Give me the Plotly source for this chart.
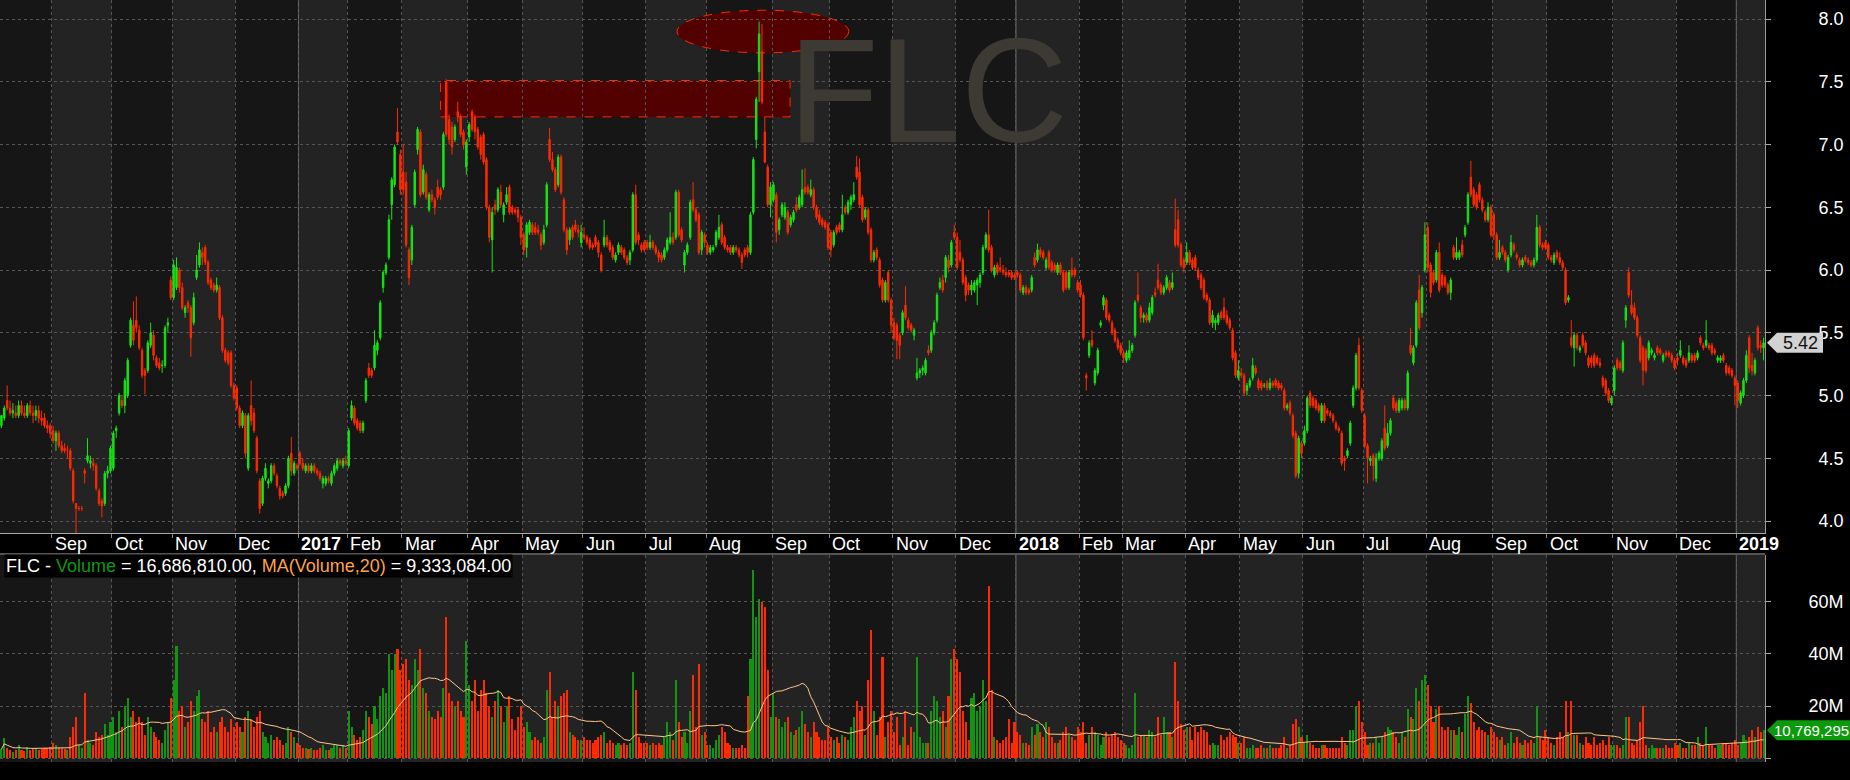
import plotly.graph_objects as go
import pandas as pd

# ---------------- DATA (FLC daily, Aug 2016 - Jan 2019) ----------------
opens = [
    # 2016-08
    4.76,4.82,4.96,4.90,4.86,4.86,4.84,4.92,4.86,4.84,4.92,4.86,4.84,4.88,4.82,4.82,4.76,4.76,
    # 2016-09
    4.72,4.64,4.70,4.60,4.58,4.56,4.56,4.40,4.14,4.10,4.10,4.40,4.48,4.46,4.46,4.44,4.24,4.16,4.14,4.38,4.40,
    # 2016-10
    4.42,4.72,4.86,4.96,4.92,5.00,5.40,5.56,5.60,5.52,5.36,5.20,5.20,5.40,5.48,5.30,5.26,5.24,5.24,5.56,5.92,
    # 2016-11
    5.78,5.86,6.00,5.86,5.66,5.74,5.70,5.58,5.94,6.04,6.14,6.18,6.06,5.92,5.88,5.84,5.86,5.62,5.36,5.34,5.34,5.08,
    # 2016-12
    5.06,4.90,4.76,4.84,4.42,4.92,4.86,4.66,4.32,4.14,4.34,4.30,4.32,4.44,4.36,4.26,4.22,4.22,4.28,4.54,4.38,4.44,
    # 2017-01
    4.54,4.46,4.40,4.44,4.40,4.44,4.40,4.38,4.30,4.30,4.34,4.30,4.38,4.42,4.48,4.44,4.48,
    # 2017-02
    4.44,4.82,4.90,4.80,4.78,4.72,4.96,5.22,5.20,5.22,5.36,5.46,5.86,5.98,6.10,6.52,6.68,7.10,6.92,
    # 2017-03
    6.78,6.70,6.16,6.08,6.52,6.96,7.10,6.62,6.76,6.48,6.60,6.56,6.66,6.64,6.66,7.50,7.20,7.14,7.04,7.26,7.22,7.10,6.82,
    # 2017-04
    7.06,7.26,7.22,7.12,7.06,7.08,6.88,6.50,6.24,6.52,6.48,6.62,6.44,6.54,6.66,6.50,6.48,6.48,6.42,
    # 2017-05
    6.28,6.18,6.30,6.36,6.34,6.32,6.28,6.22,6.36,7.04,6.88,6.80,6.68,6.90,6.56,6.32,6.24,6.34,6.36,6.32,6.22,
    # 2017-06
    6.28,6.26,6.24,6.20,6.26,6.22,6.12,6.20,6.26,6.22,6.18,6.08,6.14,6.18,6.16,6.10,6.08,6.16,6.60,6.28,6.20,6.22,
    # 2017-07
    6.22,6.18,6.22,6.18,6.14,6.12,6.10,6.16,6.22,6.26,6.26,6.62,6.32,6.04,6.14,6.26,6.56,6.48,6.44,6.16,6.28,
    # 2017-08
    6.20,6.14,6.16,6.20,6.26,6.36,6.26,6.18,6.18,6.14,6.18,6.16,6.12,6.16,6.18,6.14,6.46,7.04,7.58,7.74,7.10,6.82,6.52,
    # 2017-09
    6.56,6.60,6.32,6.44,6.42,6.46,6.36,6.40,6.52,6.50,6.52,6.66,6.66,6.60,6.64,6.50,6.44,6.40,6.38,6.36,
    # 2017-10
    6.30,6.20,6.34,6.36,6.32,6.50,6.46,6.52,6.56,6.82,6.78,6.58,6.42,6.48,6.32,6.08,6.16,6.08,5.92,5.76,5.98,5.76,
    # 2017-11
    5.58,5.56,5.48,5.50,5.72,5.60,5.56,5.48,5.14,5.18,5.20,5.18,5.36,5.36,5.50,5.60,5.86,5.92,5.94,6.08,6.04,6.30,
    # 2017-12
    6.26,6.14,6.08,5.94,5.88,5.84,5.84,5.88,5.90,5.98,6.18,6.28,6.18,5.96,6.04,6.02,6.00,5.98,5.98,5.98,5.96,
    # 2018-01
    5.98,5.96,5.82,5.86,5.84,5.84,6.10,6.08,6.16,6.14,6.02,6.14,6.06,6.04,5.98,6.04,5.98,5.98,5.86,6.00,6.00,5.90,
    # 2018-02
    5.88,5.80,5.16,5.32,5.44,5.10,5.18,5.56,5.72,5.76,5.64,5.58,5.52,5.44,5.40,
    # 2018-03
    5.34,5.28,5.30,5.36,5.48,5.80,5.70,5.62,5.64,5.60,5.66,5.82,5.92,5.88,5.82,5.86,5.90,5.86,6.32,6.40,6.20,6.08,
    # 2018-04
    6.06,6.14,6.08,6.10,6.00,5.96,5.92,5.80,5.76,5.58,5.58,5.58,5.66,5.70,5.64,5.60,5.52,5.34,5.14,
    # 2018-05
    5.18,5.16,5.04,5.08,5.14,5.22,5.12,5.10,5.08,5.10,5.06,5.10,5.12,5.10,5.08,5.04,4.90,4.94,4.84,4.70,4.38,4.62,
    # 2018-06
    4.62,4.72,5.02,4.98,4.96,4.92,4.80,4.92,4.88,4.86,4.84,4.78,4.74,4.70,4.50,4.52,4.62,4.92,5.06,5.40,5.04,
    # 2018-07
    4.84,4.60,4.48,4.52,4.34,4.50,4.50,4.74,4.60,4.70,4.98,4.94,4.88,4.90,4.96,4.90,5.40,5.26,5.40,5.84,5.66,6.00,
    # 2018-08
    6.34,6.04,5.98,5.92,6.14,5.96,5.94,5.88,5.82,6.18,6.10,6.10,6.20,6.28,6.38,6.74,6.64,6.60,6.68,6.56,6.46,6.40,6.50,
    # 2018-09
    6.44,6.28,6.10,6.18,6.14,6.00,6.12,6.20,6.12,6.08,6.04,6.10,6.08,6.06,6.04,6.08,6.34,6.20,6.22,
    # 2018-10
    6.20,6.10,6.06,6.14,6.10,6.06,6.00,5.76,5.46,5.38,5.48,5.36,5.48,5.42,5.30,5.30,5.32,5.30,5.26,5.14,5.12,5.04,4.94,
    # 2018-11
    5.04,5.28,5.26,5.20,5.60,5.98,5.72,5.70,5.62,5.46,5.38,5.36,5.30,5.34,5.30,5.38,5.36,5.28,5.34,5.34,5.32,5.28,
    # 2018-12
    5.30,5.32,5.30,5.28,5.28,5.32,5.32,5.30,5.46,5.40,5.40,5.40,5.40,5.36,5.28,5.28,5.32,5.24,5.22,5.20,5.14,
    # 2019-01
    5.10,4.94,5.00,5.12,5.46,5.24,5.18,5.54,5.40,5.38,
]

highs = [
    4.84,4.92,5.08,4.96,4.94,4.92,4.96,4.96,4.92,4.94,4.96,4.92,4.92,4.92,4.88,4.86,4.80,4.78,
    4.76,4.72,4.72,4.64,4.62,4.60,4.58,4.42,4.14,4.12,4.12,4.42,4.66,4.52,4.50,4.46,4.26,4.18,4.40,4.44,4.60,
    4.72,4.76,5.02,5.00,5.14,5.30,5.62,5.75,5.79,5.56,5.38,5.22,5.44,5.58,5.52,5.32,5.30,5.28,5.56,5.62,5.95,
    6.08,6.10,6.02,5.90,5.72,5.76,5.72,5.82,6.12,6.22,6.18,6.20,6.08,5.94,5.90,5.94,5.88,5.64,5.38,5.36,5.36,5.10,
    5.08,4.92,4.88,4.86,4.86,5.12,4.90,4.68,4.34,4.36,4.46,4.34,4.46,4.46,4.38,4.28,4.24,4.30,4.52,4.67,4.48,4.46,
    4.56,4.50,4.46,4.46,4.46,4.46,4.42,4.40,4.36,4.36,4.36,4.40,4.46,4.50,4.50,4.50,4.52,
    4.74,4.96,4.92,4.82,4.80,4.80,5.14,5.26,5.22,5.52,5.44,5.76,6.00,6.06,6.44,6.74,7.00,7.29,6.96,
    7.00,6.78,6.18,6.36,6.80,7.14,7.12,6.84,6.78,6.62,6.64,6.58,6.72,6.66,7.10,7.52,7.24,7.18,7.16,7.34,7.24,7.12,7.04,
    7.18,7.28,7.24,7.14,7.08,7.10,6.90,6.52,6.50,6.56,6.66,6.68,6.54,6.66,6.68,6.52,6.50,6.50,6.44,
    6.30,6.38,6.40,6.38,6.38,6.36,6.30,6.36,6.70,7.13,6.94,6.82,6.92,6.92,6.58,6.34,6.34,6.36,6.40,6.36,6.36,
    6.34,6.28,6.26,6.22,6.28,6.24,6.14,6.40,6.28,6.24,6.20,6.14,6.22,6.20,6.18,6.12,6.16,6.62,6.68,6.30,6.22,6.24,
    6.24,6.28,6.24,6.20,6.16,6.14,6.18,6.26,6.46,6.30,6.64,6.64,6.34,6.16,6.22,6.56,6.70,6.50,6.46,6.32,6.30,
    6.22,6.20,6.20,6.32,6.44,6.38,6.28,6.20,6.20,6.20,6.20,6.18,6.14,6.18,6.20,6.46,6.90,7.38,7.98,7.96,7.22,6.84,6.70,
    6.70,6.62,6.42,6.54,6.54,6.48,6.44,6.48,6.58,6.60,6.80,6.81,6.68,6.72,6.66,6.52,6.48,6.42,6.40,6.38,
    6.32,6.32,6.36,6.38,6.60,6.52,6.56,6.60,6.70,6.91,6.89,6.60,6.50,6.50,6.34,6.16,6.18,6.10,5.94,5.92,6.00,5.78,
    5.62,5.58,5.50,5.68,5.87,5.62,5.58,5.54,5.30,5.22,5.24,5.30,5.40,5.52,5.60,5.82,5.94,5.96,6.12,6.12,6.24,6.36,
    6.30,6.24,6.10,5.96,5.90,5.92,5.92,5.94,5.98,6.20,6.30,6.48,6.20,6.04,6.06,6.10,6.04,6.02,6.00,6.00,5.98,
    6.00,5.98,5.88,5.88,5.86,5.96,6.14,6.21,6.18,6.16,6.10,6.16,6.08,6.06,6.06,6.06,6.00,6.00,6.00,6.10,6.02,5.92,
    5.92,5.82,5.18,5.44,5.52,5.22,5.38,5.60,5.80,5.78,5.66,5.60,5.54,5.46,5.42,
    5.36,5.36,5.44,5.42,5.76,5.98,5.72,5.66,5.66,5.74,5.80,5.86,6.05,5.90,5.88,5.96,5.92,5.98,6.57,6.48,6.22,6.10,
    6.22,6.16,6.10,6.12,6.02,5.98,5.94,5.82,5.78,5.68,5.62,5.66,5.68,5.78,5.68,5.62,5.54,5.36,5.28,
    5.22,5.18,5.10,5.14,5.30,5.24,5.14,5.12,5.10,5.12,5.14,5.12,5.14,5.12,5.10,5.06,4.94,4.96,4.86,4.72,4.68,4.64,
    4.76,5.00,5.04,5.00,4.98,4.94,4.94,4.94,4.90,4.88,4.86,4.80,4.76,4.72,4.52,4.58,4.80,5.08,5.34,5.46,5.06,
    4.86,4.62,4.52,4.54,4.54,4.56,4.66,4.92,4.78,4.82,5.00,4.96,4.98,4.98,4.98,5.20,5.54,5.40,5.76,5.96,5.88,6.38,
    6.38,6.06,6.00,6.16,6.22,5.98,5.96,5.90,5.94,6.20,6.26,6.16,6.24,6.36,6.62,6.87,6.66,6.62,6.70,6.58,6.48,6.54,6.52,
    6.46,6.30,6.24,6.20,6.16,6.12,6.28,6.22,6.14,6.10,6.10,6.12,6.10,6.08,6.10,6.44,6.36,6.22,6.24,
    6.22,6.12,6.14,6.16,6.14,6.08,6.02,5.80,5.60,5.50,5.50,5.40,5.50,5.44,5.32,5.32,5.34,5.32,5.30,5.16,5.14,5.06,5.00,
    5.24,5.30,5.28,5.44,5.72,6.02,5.84,5.74,5.64,5.48,5.40,5.38,5.44,5.38,5.34,5.40,5.38,5.34,5.36,5.36,5.34,5.30,
    5.34,5.44,5.32,5.30,5.40,5.34,5.34,5.36,5.48,5.42,5.60,5.42,5.42,5.38,5.32,5.32,5.34,5.26,5.24,5.22,5.16,
    5.12,5.04,5.14,5.36,5.48,5.34,5.30,5.56,5.44,5.46,
]

lows = [
    4.74,4.80,4.88,4.84,4.82,4.82,4.82,4.84,4.82,4.82,4.84,4.78,4.80,4.78,4.76,4.74,4.70,4.66,
    4.62,4.56,4.58,4.54,4.54,4.50,4.40,4.14,3.90,4.08,4.08,4.30,4.46,4.42,4.40,4.24,4.12,4.03,4.12,4.34,4.38,
    4.40,4.66,4.84,4.90,4.86,4.98,5.38,5.40,5.50,5.36,5.14,5.01,5.18,5.38,5.28,5.22,5.20,5.18,5.22,5.50,5.76,
    5.76,5.84,5.82,5.68,5.62,5.66,5.31,5.56,5.92,6.02,6.04,6.04,5.88,5.84,5.82,5.82,5.60,5.34,5.26,5.24,5.06,4.96,
    4.88,4.74,4.74,4.50,4.40,4.76,4.70,4.38,4.06,4.12,4.32,4.26,4.30,4.36,4.26,4.17,4.18,4.20,4.26,4.36,4.36,4.40,
    4.44,4.40,4.38,4.38,4.38,4.38,4.36,4.32,4.26,4.28,4.30,4.28,4.36,4.40,4.44,4.42,4.44,
    4.42,4.80,4.76,4.72,4.70,4.70,4.94,5.14,5.14,5.20,5.32,5.44,5.82,5.96,6.08,6.40,6.66,7.00,6.60,
    6.60,6.18,5.88,6.04,6.50,6.92,6.58,6.60,6.56,6.46,6.54,6.44,6.56,6.56,6.64,7.06,7.00,6.92,7.02,7.18,7.06,6.96,6.76,
    7.02,7.10,7.04,6.96,6.88,6.84,6.48,6.22,5.98,6.44,6.46,6.50,6.38,6.52,6.44,6.44,6.44,6.38,6.20,
    6.12,6.10,6.28,6.28,6.28,6.28,6.16,6.20,6.34,6.86,6.78,6.62,6.66,6.60,6.30,6.12,6.20,6.24,6.30,6.26,6.18,
    6.24,6.20,6.16,6.16,6.18,6.10,5.98,6.18,6.18,6.14,6.08,6.06,6.12,6.12,6.08,6.04,6.04,6.14,6.20,6.20,6.14,6.14,
    6.16,6.16,6.16,6.12,6.06,6.06,6.08,6.14,6.20,6.20,6.24,6.26,6.22,5.98,6.12,6.24,6.46,6.38,6.12,6.12,6.18,
    6.12,6.12,6.14,6.18,6.24,6.20,6.16,6.14,6.12,6.12,6.14,6.10,6.01,6.10,6.10,6.12,6.44,6.97,7.34,7.32,6.85,6.50,6.42,
    6.54,6.22,6.28,6.42,6.40,6.28,6.34,6.38,6.46,6.48,6.50,6.60,6.60,6.58,6.48,6.40,6.36,6.34,6.32,6.16,
    6.10,6.18,6.28,6.30,6.30,6.44,6.44,6.48,6.54,6.72,6.50,6.38,6.40,6.28,6.06,6.06,6.08,5.86,5.74,5.74,5.74,5.50,
    5.44,5.29,5.29,5.48,5.60,5.52,5.50,5.44,5.12,5.14,5.16,5.16,5.32,5.34,5.48,5.58,5.84,5.82,5.90,5.98,6.02,6.24,
    6.00,6.06,5.88,5.75,5.80,5.80,5.82,5.72,5.86,5.96,6.16,6.14,5.98,5.94,5.96,5.98,5.96,5.94,5.94,5.92,5.92,
    5.94,5.82,5.80,5.80,5.80,5.82,6.02,6.06,6.10,6.08,6.00,6.00,5.98,5.98,5.96,5.96,5.82,5.84,5.84,5.94,5.94,5.82,
    5.78,5.44,5.04,5.30,5.38,5.08,5.16,5.54,5.68,5.60,5.58,5.48,5.42,5.36,5.32,
    5.26,5.26,5.28,5.34,5.46,5.74,5.58,5.58,5.58,5.58,5.64,5.78,5.84,5.80,5.80,5.84,5.82,5.84,6.18,6.18,6.02,5.98,
    6.04,6.04,6.00,6.00,5.92,5.84,5.76,5.74,5.56,5.54,5.52,5.56,5.60,5.60,5.56,5.52,5.28,5.14,5.12,
    5.14,5.00,5.00,5.06,5.12,5.16,5.04,5.04,5.06,5.04,5.04,5.06,5.06,5.04,5.04,4.88,4.88,4.84,4.66,4.34,4.34,4.50,
    4.60,4.70,4.90,4.90,4.88,4.86,4.78,4.78,4.84,4.82,4.78,4.72,4.70,4.44,4.40,4.50,4.60,4.90,5.04,5.04,4.86,
    4.58,4.30,4.44,4.32,4.31,4.48,4.48,4.56,4.58,4.68,4.88,4.86,4.86,4.88,4.88,4.88,5.32,5.24,5.38,5.52,5.62,5.98,
    5.98,5.78,5.88,5.90,5.82,5.86,5.86,5.80,5.76,6.08,6.08,6.08,6.10,6.26,6.36,6.58,6.50,6.48,6.54,6.46,6.38,6.38,6.26,
    6.24,6.08,6.08,6.12,6.06,5.98,6.10,6.14,6.08,6.02,6.02,6.06,6.04,6.02,6.02,6.06,6.18,6.16,6.16,
    6.08,6.06,6.04,6.08,6.04,6.00,5.72,5.74,5.38,5.23,5.36,5.34,5.38,5.32,5.22,5.22,5.22,5.24,5.22,5.06,5.00,4.94,4.92,
    5.00,5.20,5.20,5.18,5.54,5.78,5.64,5.60,5.46,5.26,5.08,5.18,5.28,5.32,5.28,5.32,5.32,5.26,5.30,5.30,5.26,5.20,
    5.24,5.30,5.24,5.22,5.26,5.26,5.26,5.28,5.40,5.36,5.38,5.36,5.32,5.32,5.26,5.26,5.26,5.16,5.16,5.14,4.92,
    4.90,4.92,4.98,5.10,5.18,5.16,5.16,5.36,5.34,5.28,
]

closes = [
    4.84,4.90,4.90,4.86,4.88,4.84,4.92,4.86,4.84,4.92,4.86,4.84,4.88,4.82,4.80,4.76,4.74,4.70,
    4.64,4.70,4.60,4.56,4.56,4.56,4.42,4.16,4.10,4.10,4.10,4.38,4.52,4.48,4.44,4.26,4.14,4.12,4.38,4.40,4.58,
    4.70,4.74,5.00,4.92,5.12,5.28,5.60,5.44,5.54,5.38,5.16,5.16,5.42,5.50,5.32,5.24,5.22,5.24,5.54,5.58,5.78,
    6.04,6.02,5.86,5.70,5.70,5.70,5.46,5.78,6.00,6.16,6.10,6.06,5.90,5.86,5.84,5.88,5.62,5.36,5.28,5.26,5.08,4.98,
    4.90,4.76,4.86,4.54,4.84,4.80,4.72,4.40,4.10,4.34,4.42,4.32,4.44,4.38,4.28,4.20,4.20,4.28,4.50,4.40,4.46,4.42,
    4.46,4.42,4.44,4.40,4.44,4.40,4.38,4.34,4.34,4.34,4.32,4.38,4.44,4.48,4.46,4.48,4.46,
    4.72,4.92,4.78,4.74,4.72,4.78,5.12,5.16,5.16,5.40,5.42,5.74,5.98,6.04,6.40,6.72,6.98,7.02,6.64,
    6.64,6.20,5.94,6.34,6.78,7.12,6.60,6.80,6.58,6.60,6.56,6.50,6.58,6.60,7.08,7.08,7.04,6.98,7.14,7.22,7.08,7.00,7.02,
    7.16,7.12,7.10,6.98,6.92,6.86,6.50,6.26,6.46,6.48,6.64,6.52,6.52,6.60,6.46,6.46,6.46,6.42,6.26,
    6.16,6.36,6.38,6.30,6.30,6.30,6.20,6.32,6.68,6.88,6.80,6.64,6.90,6.62,6.32,6.16,6.32,6.26,6.32,6.30,6.30,
    6.26,6.22,6.18,6.18,6.20,6.14,6.00,6.26,6.20,6.16,6.10,6.12,6.20,6.14,6.10,6.06,6.14,6.60,6.22,6.24,6.16,6.16,
    6.18,6.22,6.18,6.14,6.10,6.08,6.16,6.24,6.26,6.22,6.62,6.28,6.24,6.14,6.20,6.54,6.48,6.40,6.14,6.30,6.22,
    6.14,6.18,6.18,6.30,6.34,6.22,6.18,6.16,6.14,6.18,6.16,6.12,6.06,6.12,6.14,6.44,6.88,7.36,7.88,7.34,6.86,6.52,6.66,
    6.68,6.30,6.40,6.52,6.50,6.30,6.42,6.46,6.48,6.58,6.64,6.62,6.62,6.64,6.50,6.42,6.38,6.36,6.34,6.18,
    6.16,6.30,6.30,6.32,6.44,6.46,6.54,6.58,6.60,6.74,6.52,6.40,6.48,6.30,6.08,6.14,6.10,5.88,5.76,5.90,5.76,5.56,
    5.46,5.44,5.40,5.66,5.62,5.54,5.52,5.52,5.18,5.20,5.22,5.28,5.34,5.50,5.58,5.80,5.90,5.84,6.10,6.02,6.22,6.26,
    6.02,6.08,5.90,5.80,5.84,5.88,5.90,5.92,5.96,6.18,6.28,6.16,6.00,6.02,5.98,6.00,5.98,5.96,5.96,5.94,5.94,
    5.96,5.84,5.86,5.82,5.82,5.94,6.04,6.16,6.12,6.10,6.08,6.02,6.00,6.00,6.04,5.98,5.84,5.86,5.98,5.96,5.96,5.84,
    5.80,5.46,5.14,5.42,5.40,5.20,5.36,5.58,5.78,5.62,5.60,5.50,5.44,5.38,5.34,
    5.30,5.34,5.36,5.40,5.74,5.76,5.62,5.64,5.60,5.70,5.78,5.80,5.86,5.82,5.86,5.94,5.84,5.90,6.20,6.20,6.04,6.02,
    6.14,6.06,6.02,6.02,5.94,5.86,5.78,5.76,5.58,5.64,5.60,5.64,5.62,5.62,5.58,5.54,5.30,5.16,5.20,
    5.16,5.02,5.08,5.12,5.24,5.18,5.06,5.06,5.08,5.06,5.10,5.08,5.08,5.06,5.06,4.90,4.92,4.86,4.68,4.36,4.66,4.54,
    4.72,4.98,4.92,4.92,4.90,4.88,4.92,4.80,4.86,4.84,4.80,4.74,4.72,4.46,4.48,4.56,4.78,5.06,5.32,5.06,4.88,
    4.60,4.50,4.50,4.44,4.50,4.54,4.64,4.58,4.70,4.80,4.90,4.88,4.96,4.96,4.90,5.18,5.34,5.38,5.74,5.54,5.86,6.28,
    6.02,5.82,5.90,6.14,5.84,5.88,5.88,5.82,5.92,6.10,6.14,6.14,6.12,6.34,6.60,6.60,6.52,6.50,6.56,6.48,6.40,6.50,6.28,
    6.28,6.10,6.14,6.14,6.08,6.10,6.22,6.16,6.10,6.04,6.08,6.08,6.06,6.04,6.08,6.34,6.20,6.18,6.18,
    6.10,6.08,6.12,6.10,6.06,6.02,5.74,5.78,5.40,5.48,5.38,5.38,5.40,5.34,5.24,5.26,5.24,5.26,5.24,5.08,5.02,4.96,4.98,
    5.22,5.22,5.22,5.42,5.70,5.80,5.66,5.62,5.48,5.28,5.20,5.20,5.42,5.36,5.32,5.34,5.34,5.32,5.32,5.32,5.28,5.22,
    5.28,5.36,5.26,5.24,5.34,5.28,5.28,5.34,5.42,5.38,5.44,5.38,5.34,5.34,5.30,5.30,5.28,5.18,5.18,5.16,5.08,
    4.96,5.02,5.12,5.32,5.22,5.20,5.28,5.38,5.38,5.42,
]

# volume in millions of shares
volumes = [
    3.5,7.6,4.0,3.0,2.5,3.2,5.0,3.0,2.8,4.5,3.0,3.5,4.0,3.0,3.5,4.0,3.8,4.2,
    6,5,4,4,3.5,3,8,12,16,5,4,25,7,6,5,10,8,9,13,9,14,
    16,10,18,12,20,23,16,18,14,16,14,9,16,12,10,8,7,6,11,14,23,
    30,43,18,20,12,14,22,18,24,26,15,14,18,10,12,10,14,16,12,10,15,12,
    14,12,10,16,18,15,12,16,18,10,8,6,9,7,8,7,5,6,12,10,8,6,
    5,4,4,3.5,4,3,3,4,5,3,3,4,5,5,4,5,4,
    18,12,9,7,8,11,18,16,13,20,15,24,27,25,40,34,40,42,34,
    36,38,30,28,38,34,42,27,25,18,16,15,18,16,27,54,25,22,20,22,18,16,45,
    28,22,30,18,26,30,25,20,16,22,26,20,14,20,24,15,11,16,20,
    12,14,10,7,8,7,6,8,26,33,16,22,20,24,25,26,10,9,8,7,7,
    8,7,7,6,7,8,9,10,6,7,6,5,6,5,6,5,6,33,26,8,6,6,
    6,5,6,5,6,5,8,14,10,7,30,14,8,10,6,18,32,12,36,9,10,
    5,5,4,7,9,12,10,6,5,4,4,4,5,4,24,38,72,54,61,60,58,34,16,
    25,16,15,12,14,16,10,9,11,12,18,13,10,8,14,10,8,7,7,12,
    8,7,8,6,9,8,7,12,16,22,18,20,9,30,49,18,9,16,39,8,14,18,
    10,16,5,8,18,5,12,10,39,8,6,6,6,18,24,22,16,18,12,24,38,42,
    38,33,18,14,7,23,25,18,20,30,22,66,26,8,7,6,7,8,15,6,14,
    10,9,6,6,5,12,9,13,10,8,14,12,8,6,6,7,10,12,9,8,7,12,
    10,14,6,9,12,10,9,5,8,10,8,9,10,8,7,
    6,5,4,5,25,8,9,9,8,11,10,8,16,9,16,10,10,8,37,22,13,11,
    12,12,7,12,10,12,11,10,5,6,5,5,9,7,8,10,9,8,6,
    6,8,4,4,5,4,4,5,4,4,5,4,4,4,5,8,4,5,13,15,12,8,
    6,9,6,5,4,4,5,5,4,4,4,4,4,8,6,5,11,11,20,22,14,
    10,5,6,6,8,6,8,10,12,11,10,8,6,10,8,19,16,15,27,22,30,32,
    28,20,14,19,20,12,11,12,11,11,9,12,10,17,24,21,14,11,12,11,10,9,12,
    10,8,7,8,5,6,10,6,8,6,5,7,6,7,6,20,8,7,11,
    8,6,5,8,10,8,22,10,22,9,9,6,5,8,6,5,8,5,6,7,5,8,5,
    5,5,4,5,16,16,6,5,7,14,20,5,4,5,4,4,4,4,5,4,4,6,
    5,6,4,4,6,5,5,8,6,5,12,5,5,4,5,5,6,6,5,6,7,
    5,6,9,7,8,11,8,12,10,10.769295,
]

holidays = [
    "2016-09-02", "2017-01-02", "2017-01-26", "2017-01-27", "2017-01-30", "2017-01-31",
    "2017-02-01", "2017-04-06", "2017-05-01", "2017-05-02", "2017-09-04", "2018-01-01",
    "2018-02-14", "2018-02-15", "2018-02-16", "2018-02-19", "2018-02-20", "2018-04-25",
    "2018-04-30", "2018-05-01", "2018-09-03", "2019-01-01",
]
month_names = ["", "Jan", "Feb", "Mar", "Apr", "May", "Jun", "Jul", "Aug", "Sep", "Oct", "Nov", "Dec"]

ticker = "FLC"
legend_volume = "16,686,810.00"
legend_ma = "9,333,084.00"
price_ticks = [4.0, 4.5, 5.0, 5.5, 6.0, 6.5, 7.0, 7.5, 8.0]
volume_ticks = [0, 20, 40, 60]
volume_ticktext = ["", "20M", "40M", "60M"]

# ---------------- PREP ----------------
n = min(len(opens), len(highs), len(lows), len(closes), len(volumes))
opens, highs, lows, closes, volumes = opens[:n], highs[:n], lows[:n], closes[:n], volumes[:n]
highs = [max(h, o, c) for h, o, c in zip(highs, opens, closes)]
lows = [min(l, o, c) for l, o, c in zip(lows, opens, closes)]

hol = set(holidays)
bd = pd.bdate_range("2016-08-08", "2019-03-31")
dates = [d for d in bd if d.strftime("%Y-%m-%d") not in hol][:n]
idx = list(range(n))

ma20 = pd.Series(volumes).rolling(20, min_periods=1).mean().tolist()

def xpos(s):
    t = pd.Timestamp(s)
    for i, d in enumerate(dates):
        if d >= t:
            return i
    return n - 1

month_starts = [i for i in range(n) if i == 0 or dates[i].month != dates[i - 1].month]

# ---------------- STYLE / GEOMETRY ----------------
W, H = 1850, 780
FONT = "Liberation Sans, Arial, sans-serif"
UP, DOWN = "#14e614", "#ff2a00"
VUP, VDOWN = "#129412", "#ff2a00"
MA_COLOR = "#ffc68a"
GRID = "#565656"
BG_DARK, BG_LIGHT = "#161616", "#232323"

XR = 1765 / W
P0, P1 = 1 - 533 / H, 1.0
V0, V1 = 1 - 762 / H, 1 - 555 / H
price_range = [8 - 514 / 125.5, 8 + 19 / 125.5]
vol_range = [-(3.7 / 52.2) * 20, (203.3 / 52.2) * 20]
x_range = [-0.5, n - 0.5]

fig = go.Figure()

# watermark (drawn first, under the candles)
wm_size = 148
wm_x = x_range[0] + (928 / 1765) * (x_range[1] - x_range[0])
wm_y = price_range[0] + (1 - 105 / 533) * (price_range[1] - price_range[0])
fig.add_trace(go.Scatter(
    x=[wm_x], y=[wm_y], mode="text", text=[ticker], textposition="middle center",
    textfont=dict(family="Liberation Sans, Arial, sans-serif", size=wm_size, color="#3d3a34"),
    cliponaxis=False, hoverinfo="skip", xaxis="x", yaxis="y"))

fig.add_trace(go.Candlestick(
    x=idx, open=opens, high=highs, low=lows, close=closes,
    increasing=dict(line=dict(color=UP, width=1), fillcolor=UP),
    decreasing=dict(line=dict(color=DOWN, width=1), fillcolor=DOWN),
    whiskerwidth=0, hoverinfo="skip", xaxis="x", yaxis="y"))
vol_colors = [VUP if c >= o else VDOWN for o, c in zip(opens, closes)]
fig.add_trace(go.Bar(
    x=idx, y=volumes, marker=dict(color=vol_colors, line=dict(width=0)),
    width=0.72, hoverinfo="skip", xaxis="x2", yaxis="y2"))
fig.add_trace(go.Scatter(
    x=idx, y=ma20, mode="lines", line=dict(color=MA_COLOR, width=1),
    hoverinfo="skip", xaxis="x2", yaxis="y2"))

shapes = []
annotations = []
grid_x = [i - 0.5 for i in month_starts if i > 0]

# alternating month bands and year lines
bounds = month_starts + [n]
for k in range(len(month_starts)):
    a, b = bounds[k] - 0.5, bounds[k + 1] - 0.5
    d = dates[month_starts[k]]
    m = (d.year - 2016) * 12 + d.month - 8
    if m % 2 == 1:
        for xr, yr in (("x", "y domain"), ("x2", "y2 domain")):
            shapes.append(dict(type="rect", xref=xr, yref=yr, x0=a, x1=b, y0=0, y1=1,
                               fillcolor=BG_LIGHT, line=dict(width=0), layer="below"))
for i in month_starts:
    if i == 0:
        continue
    d = dates[i]
    if d.month == 1:
        for xr, yr in (("x", "y domain"), ("x2", "y2 domain")):
            shapes.append(dict(type="line", xref=xr, yref=yr, x0=i - 0.5, x1=i - 0.5, y0=0, y1=1,
                               line=dict(color="#707070", width=1), layer="below"))
        label = "<b>%d</b>" % d.year
    else:
        label = month_names[d.month]
    annotations.append(dict(x=i - 0.5, xref="x", y=1 - 544 / H, yref="paper", text=label,
                            showarrow=False, xanchor="left", yanchor="middle", xshift=1,
                            font=dict(family=FONT, size=18, color="white")))

# drawn zones
shapes.append(dict(type="rect", xref="x", yref="y",
                   x0=xpos("2017-03-20"), x1=xpos("2017-09-11") + 0.8, y0=7.22, y1=7.51,
                   fillcolor="#530000", line=dict(color="#ff2a00", width=1, dash="dash"), layer="below"))
shapes.append(dict(type="circle", xref="x", yref="y",
                   x0=xpos("2017-07-17") + 0.4, x1=xpos("2017-10-10") + 0.3, y0=7.73, y1=8.07,
                   fillcolor="#530000", line=dict(color="#ff2a00", width=1, dash="dash"), layer="below"))

# date band bottom line
shapes.append(dict(type="line", xref="paper", yref="paper", x0=0, x1=XR,
                   y0=1 - 554 / H, y1=1 - 554 / H, line=dict(color="#a8a8a8", width=1)))

# last price tag
lp = closes[-1]
tip, sh, rt = 1767 / W, 1777 / W, 1823 / W
dp = 10 / 125.5
shapes.append(dict(type="path", xref="paper", yref="y",
                   path=f"M {tip},{lp} L {sh},{lp + dp} L {rt},{lp + dp} L {rt},{lp - dp} L {sh},{lp - dp} Z",
                   fillcolor="#d2d2d2", line=dict(width=0)))
annotations.append(dict(x=1800 / W, xref="paper", y=lp, yref="y", text=f"{lp:.2f}", showarrow=False,
                        xanchor="center", yanchor="middle", font=dict(family=FONT, size=18, color="#111111")))
# last volume tag
lv = volumes[-1]
dv = 10 / 52.2 * 20
shapes.append(dict(type="path", xref="paper", yref="y2",
                   path=f"M {tip},{lv} L {sh},{lv + dv} L 1.0,{lv + dv} L 1.0,{lv - dv} L {sh},{lv - dv} Z",
                   fillcolor="#0c9a0c", line=dict(width=0)))
annotations.append(dict(x=1773 / W, xref="paper", y=lv, yref="y2", text=f"{lv * 1e6:,.0f}", showarrow=False,
                        xanchor="left", yanchor="middle", borderpad=0,
                        font=dict(family=FONT, size=15, color="white")))

# volume legend
annotations.append(dict(
    x=4 / W, xref="paper", y=1 - 566 / H, yref="paper", showarrow=False, xanchor="left", yanchor="middle",
    text=(f"{ticker} - <span style='color:#0e9a0e'>Volume</span> = {legend_volume}, "
          f"<span style='color:#ffa24a'>MA(Volume,20)</span> = {legend_ma}"),
    bgcolor="black", borderpad=1, font=dict(family=FONT, size=18, color="white")))

axis_common = dict(showgrid=True, gridcolor=GRID, griddash="dot", gridwidth=1, zeroline=False, fixedrange=True)

fig.update_layout(
    width=W, height=H, margin=dict(l=0, r=0, t=0, b=0),
    paper_bgcolor="black", plot_bgcolor=BG_DARK, showlegend=False, hovermode=False,
    bargap=0,
    xaxis=dict(domain=[0, XR], range=x_range, tickvals=grid_x, showticklabels=False,
               showline=True, linecolor="#a8a8a8", linewidth=1, ticks="outside", ticklen=4,
               tickcolor="#8a8a8a", rangeslider=dict(visible=False), anchor="y", **axis_common),
    yaxis=dict(domain=[P0, P1], range=price_range, side="right", anchor="x", tickvals=price_ticks,
               tickformat=".1f", showline=True, linecolor="#9a9a9a", linewidth=1, ticks="outside",
               ticklen=5, tickcolor="#aaaaaa", ticklabelstandoff=44,
               tickfont=dict(family=FONT, size=18, color="white"), **axis_common),
    xaxis2=dict(domain=[0, XR], range=x_range, tickvals=grid_x, showticklabels=False,
                showline=False, ticks="", anchor="y2", matches="x", **axis_common),
    yaxis2=dict(domain=[V0, V1], range=vol_range, side="right", anchor="x2", tickvals=volume_ticks,
                ticktext=volume_ticktext, showline=True, linecolor="#9a9a9a", linewidth=1,
                ticks="outside", ticklen=5, tickcolor="#aaaaaa", ticklabelstandoff=34,
                tickfont=dict(family=FONT, size=18, color="white"), **axis_common),
    shapes=shapes, annotations=annotations,
)

page_fix = ("document.documentElement.style.background='black';"
            "document.body.style.margin='0px';document.body.style.padding='0px';"
            "document.body.style.background='black';document.body.style.overflow='hidden';")
fig.write_html("out.html", post_script=page_fix, config={"displayModeBar": False})
